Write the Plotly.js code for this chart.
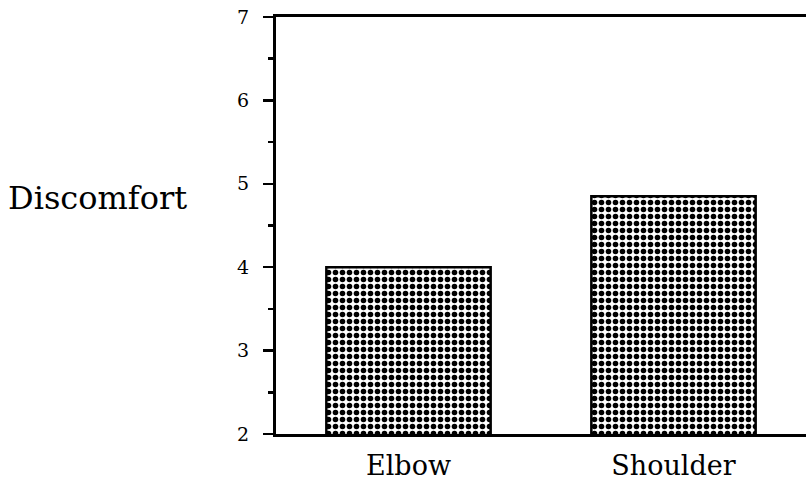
<!DOCTYPE html>
<html>
<head>
<meta charset="utf-8">
<script src="https://cdn.plot.ly/plotly-3.0.1.min.js"></script>
<style>html,body{margin:0;padding:0;background:#fff;}#chart{width:806px;height:486px;}</style>
</head>
<body>
<div id="chart"></div>
<script>
const categories = ["Elbow", "Shoulder"];
const discomfort = [4.0, 4.85];
const yTickVals = [2, 3, 4, 5, 6, 7];
const yTickText = ["2", "3", "4", "5", "6", "7"];
const yLabel = "Discomfort";

const trace = {
  type: "bar",
  x: categories,
  y: discomfort,
  width: 0.62,
  marker: {
    color: "#ffffff",
    line: {color: "#000000", width: 2.5},
    pattern: {shape: ".", fgcolor: "#000000", bgcolor: "#ffffff", size: 7, solidity: 0.5}
  },
  hoverinfo: "none"
};

const layout = {
  width: 806, height: 486,
  margin: {l: 276, r: 0, t: 17, b: 52},
  paper_bgcolor: "#ffffff", plot_bgcolor: "#ffffff",
  showlegend: false,
  font: {family: "DejaVu Serif", color: "#000000"},
  xaxis: {
    range: [-0.5, 1.5],
    showline: true, linecolor: "#000", linewidth: 3, mirror: true,
    ticks: "", showgrid: false, zeroline: false,
    tickfont: {family: "DejaVu Serif", size: 27},
    ticklabelstandoff: 6
  },
  yaxis: {
    range: [2, 7],
    showline: true, linecolor: "#000", linewidth: 3,
    ticks: "outside", ticklen: 10, tickwidth: 2.5, tickcolor: "#000",
    tickvals: yTickVals, ticktext: yTickText,
    minor: {dtick: 0.5, ticks: "outside", ticklen: 5, tickwidth: 2.5, tickcolor: "#000"},
    showgrid: false, zeroline: false,
    tickfont: {family: "DejaVu Serif", size: 19},
    ticklabelstandoff: 10
  },
  annotations: [{
    text: yLabel, xref: "paper", yref: "paper", x: -0.51, y: 0.565,
    xanchor: "left", yanchor: "middle", showarrow: false,
    font: {family: "DejaVu Serif", size: 32, color: "#000"}
  }]
};

Plotly.newPlot("chart", [trace], layout, {staticPlot: true});
</script>
</body>
</html>
